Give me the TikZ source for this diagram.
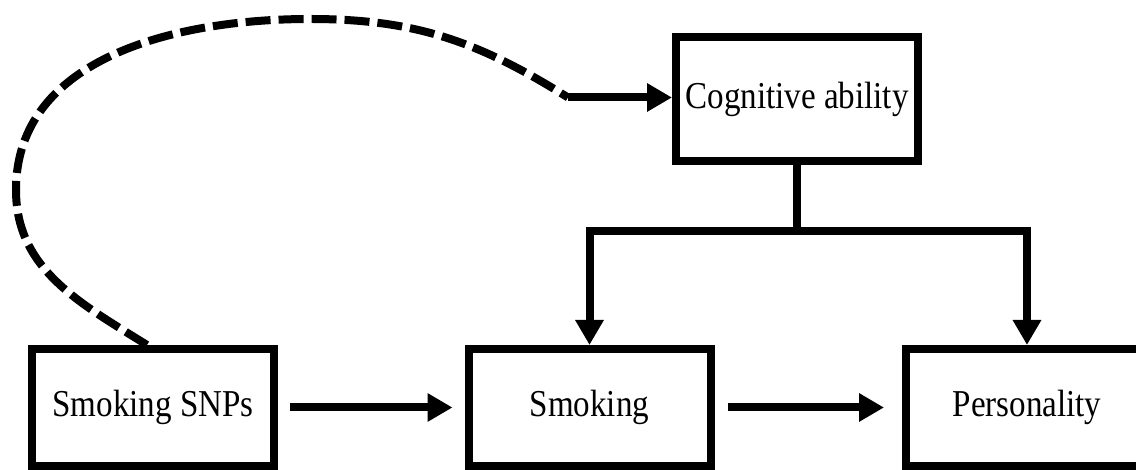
\documentclass[tikz,border=0pt]{standalone}
\usepackage{fontspec}
\setmainfont[FakeStretch=0.87]{Liberation Serif}
\usetikzlibrary{arrows.meta,positioning}

\begin{document}
\begin{tikzpicture}[x=1pt,y=1pt,
		box/.style={draw,line width=8pt,minimum width=242pt,minimum height=117pt,inner sep=0pt,font=\fontsize{38}{44}\selectfont},
		link/.style={line width=8pt},
		arrowlink/.style={line width=8pt,-{Triangle[length=25pt,width=27pt]}},
		dashlink/.style={line width=8pt,dash pattern=on 25pt off 8pt}]
	\useasboundingbox (0,0) rectangle (1136,470);
	\clip (0,0) rectangle (1136,470);
	\node[box] (snps) at (153,62.5) {\raisebox{-4pt}{Smoking SNPs}};
	\node[box] (smoking) at (589.5,62.5) {\raisebox{4pt}{Smoking}};
	\node[box] (personality) at (1027,62.5) {\raisebox{-4pt}{Personality}};
	\node[box,minimum height=123.5pt] (cog) at (797,371) {\raisebox{-3pt}{Cognitive ability}};
	% genetic confounding path
	\coordinate (loopstart) at ([xshift=-6pt]snps.north);
	\coordinate (dashend) at (568,372.5);
	\draw[dashlink] (loopstart) to[out=148,in=-90] (16,280) to[out=90,in=180] (310,451) to[out=0,in=148] (dashend);
	\draw[arrowlink] (dashend) -- (dashend -| cog.west);
	% cognitive ability to both outcomes
	\coordinate (split) at (cog.south |- 0,238.5);
	\draw[link] (cog.south) -- (split);
	\draw[arrowlink] (split) -| (smoking.north);
	\draw[arrowlink] (split) -| (personality.north);
	% main chain
	\draw[arrowlink,shorten <=12pt,shorten >=12pt] (snps) -- (smoking);
	\draw[arrowlink,shorten <=13pt,shorten >=18pt] (smoking) -- (personality);
\end{tikzpicture}
\end{document}
